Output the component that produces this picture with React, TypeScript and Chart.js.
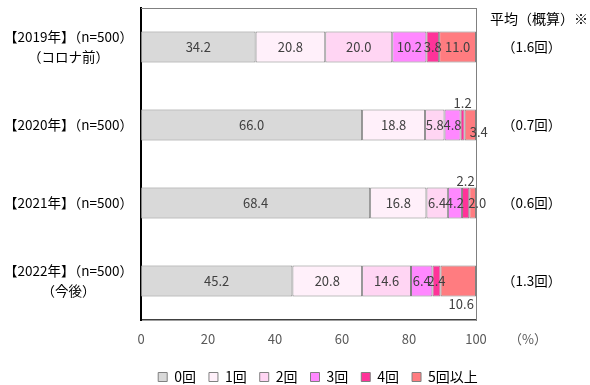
import React, { useEffect, useRef } from "react";
import { Chart, registerables } from "chart.js";

Chart.register(...registerables);

// ---- data ----
const categories: string[][] = [
  ["【2019年】（n=500）", "（コロナ前）"],
  ["【2020年】（n=500）"],
  ["【2021年】（n=500）"],
  ["【2022年】（n=500）", "（今後）"],
];
const averageLabels = ["（1.6回）", "（0.7回）", "（0.6回）", "（1.3回）"];
const averageHeader = "平均（概算）※";
const unitLabel = "（%）";
const seriesNames = ["0回", "1回", "2回", "3回", "4回", "5回以上"];
const times0 = [34.2, 66.0, 68.4, 45.2];
const times1 = [20.8, 18.8, 16.8, 20.8];
const times2 = [20.0, 5.8, 6.4, 14.6];
const times3 = [10.2, 4.8, 4.2, 6.4];
const times4 = [3.8, 1.2, 2.2, 2.4];
const times5 = [11.0, 3.4, 2.0, 10.6];
const xMin = 0;
const xMax = 100;
const xStep = 20;

// ---- style ----
const seriesColors = ["#d9d9d9", "#fff0fa", "#ffd5f3", "#ff88ff", "#ff3399", "#ff7c80"];
const FONT = "'Noto Sans CJK JP', 'Noto Sans', sans-serif";
// label placement overrides keyed "datasetIndex-rowIndex"
const labelPlacement: Record<string, string> = {
  "4-1": "above",
  "5-1": "belowRight",
  "4-2": "above",
  "5-2": "right",
  "5-3": "below",
};

const allSeries = [times0, times1, times2, times3, times4, times5];

const labelsPlugin = {
  id: "segmentLabels",
  afterDatasetsDraw(chart: any) {
    const ctx = chart.ctx;
    ctx.save();
    ctx.font = `13px ${FONT}`;
    ctx.fillStyle = "#404040";
    ctx.textAlign = "center";
    ctx.textBaseline = "middle";
    chart.data.datasets.forEach((ds: any, di: number) => {
      const meta = chart.getDatasetMeta(di);
      meta.data.forEach((el: any, ri: number) => {
        const v = ds.data[ri];
        const txt = v.toFixed(1);
        const cx = (el.x + el.base) / 2;
        const cy = el.y;
        const h = el.height;
        const p = labelPlacement[`${di}-${ri}`];
        let x = cx;
        let y = cy;
        if (p === "above") y = cy - h / 2 - 6;
        else if (p === "below") { y = cy + h / 2 + 7; x = cx + 3; }
        else if (p === "belowRight") { y = cy + 7; x = cx + 8.5; }
        else if (p === "right") x = cx + 4.5;
        ctx.fillText(txt, x, y);
      });
    });
    ctx.restore();
  },
};

const framePlugin = {
  id: "frameAndNotes",
  afterDraw(chart: any) {
    const { ctx, chartArea } = chart;
    ctx.save();
    ctx.strokeStyle = "#808080";
    ctx.lineWidth = 1;
    ctx.beginPath();
    ctx.moveTo(chartArea.left, chartArea.top + 0.5);
    ctx.lineTo(chartArea.right, chartArea.top + 0.5);
    ctx.stroke();
    ctx.fillStyle = "#000000";
    ctx.font = `14px ${FONT}`;
    ctx.textAlign = "center";
    ctx.textBaseline = "middle";
    ctx.fillText(averageHeader, 539, 19);
    ctx.font = `13px ${FONT}`;
    ctx.fillStyle = "#595959";
    ctx.fillText(unitLabel, 528, 339);
    ctx.restore();
  },
};

export default function App() {
  const ref = useRef<HTMLCanvasElement | null>(null);
  useEffect(() => {
    if (!ref.current) return;
    const chart = new Chart(ref.current, {
      type: "bar",
      data: {
        labels: categories,
        datasets: allSeries.map((d, i) => ({
          label: seriesNames[i],
          data: d,
          backgroundColor: seriesColors[i],
          borderColor: "#808080",
          borderWidth: 1,
          borderSkipped: false,
          barPercentage: 0.4,
          categoryPercentage: 1,
        })),
      },
      plugins: [labelsPlugin, framePlugin],
      options: {
        indexAxis: "y",
        animation: false,
        responsive: true,
        maintainAspectRatio: false,
        layout: { padding: { left: 0, right: -46, top: 8, bottom: -9 } },
        scales: {
          x: {
            stacked: true,
            min: xMin,
            max: xMax,
            grid: { display: false },
            border: { display: true, color: "#404040", width: 1.5 },
            ticks: {
              stepSize: xStep,
              color: "#595959",
              font: { family: FONT, size: 13 },
              padding: 3,
            },
            afterFit: (s: any) => {
              const lh = s.chart.legend ? s.chart.legend.height : 40;
              s.height = 394 - lh - 320;
              s.paddingLeft = 0;
              s.paddingRight = 0;
            },
          },
          y: {
            stacked: true,
            grid: { display: false },
            border: { display: true, color: "#000000", width: 2 },
            ticks: {
              color: "#000000",
              font: { family: FONT, size: 13.5, lineHeight: 1.5 },
              crossAlign: "center",
              padding: 0,
            },
            afterFit: (s: any) => {
              s.width = 141;
              s.paddingTop = 0;
              s.paddingBottom = 0;
            },
          },
          y2: {
            type: "category",
            position: "right",
            labels: averageLabels,
            offset: true,
            grid: { display: false },
            border: { display: true, color: "#808080", width: 1 },
            ticks: {
              color: "#000000",
              font: { family: FONT, size: 13.5 },
              crossAlign: "center",
              padding: 18,
            },
            afterFit: (s: any) => {
              s.width = 160;
              s.paddingTop = 0;
              s.paddingBottom = 0;
            },
          },
        },
        plugins: {
          legend: {
            position: "bottom",
            labels: {
              boxWidth: 9,
              boxHeight: 9,
              padding: 13,
              color: "#000000",
              font: { family: FONT, size: 14 },
            },
          },
          tooltip: { enabled: false },
        },
      },
    });
    return () => chart.destroy();
  }, []);
  return (
    <div style={{ position: "fixed", left: 0, top: 0, width: 590, height: 385 }}>
      <canvas ref={ref} />
    </div>
  );
}
